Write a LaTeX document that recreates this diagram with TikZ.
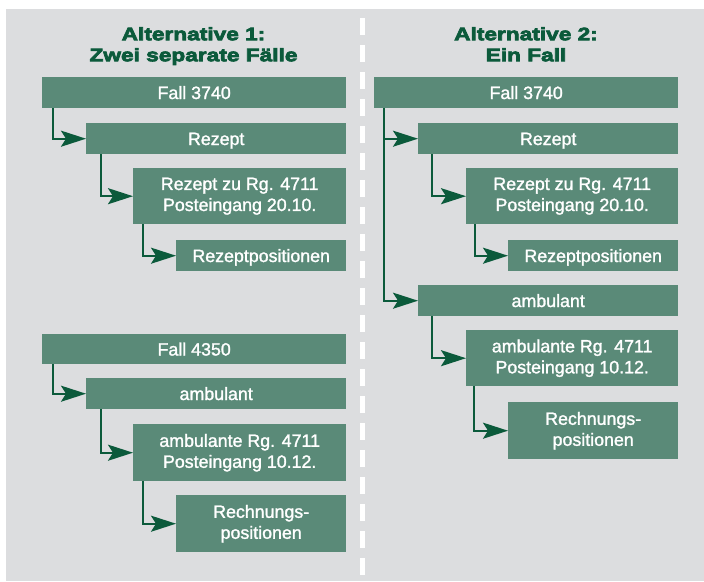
\documentclass[tikz,border=0pt]{standalone}
\usepackage{fontspec}
\setmainfont{Liberation Sans}
\newfontfamily\titlefont{Liberation Sans}[BoldFeatures={FakeBold=4,FakeStretch=1.26}]
\newfontfamily\boxfont{Liberation Sans}[FakeBold=1.5]
\usetikzlibrary{arrows.meta}
\definecolor{bggray}{HTML}{DCDDDF}
\definecolor{boxgreen}{HTML}{5A8A78}
\definecolor{darkgreen}{HTML}{0B5A3B}
\tikzset{
  box/.style={fill=boxgreen, text=white, inner sep=0pt, anchor=north west,
    font=\boxfont\fontsize{17.8}{21}\selectfont, align=center},
  onebox/.style={box, text height=12.6pt, text depth=0pt},
  conn/.style={draw=darkgreen, line width=2.2pt,
    -{Stealth[length=25pt,width=16pt,inset=5pt]}},
  ttl/.style={text=darkgreen, inner sep=0pt, anchor=north, align=center,
    font=\titlefont\bfseries\fontsize{18}{21}\selectfont},
  divider/.style={draw=white, line width=5.5pt, dash pattern=on 17pt off 10pt}
}
\begin{document}
\begin{tikzpicture}[x=1pt,y=-1pt]
\useasboundingbox (0,0) rectangle (704,581);
\fill[bggray] (6,9) rectangle (704,581);
\coordinate (dtop) at (362.3,18);
\coordinate (dbot) at (362.3,581);
\draw[divider] (dtop) -- (dbot);

% titles
\node[ttl] (t1) at (193.5,27) {Alternative 1:\\Zwei separate Fälle};
\node[ttl] (t2) at (526,27) {Alternative 2:\\Ein Fall};

% left column
\node[onebox, minimum width=304pt, minimum height=31pt] (f1) at (42,77) {Fall 3740};
\node[onebox, minimum width=260pt, minimum height=31pt] (r1) at (86,123) {Rezept};
\node[box, minimum width=213pt, minimum height=56pt] (rz1) at (133,168) {Rezept zu Rg. 4711\\Posteingang 20.10.};
\node[onebox, minimum width=170pt, minimum height=31pt] (rp1) at (176,240) {Rezeptpositionen};

\node[onebox, minimum width=304pt, minimum height=30pt] (f2) at (42,334) {Fall 4350};
\node[onebox, minimum width=260pt, minimum height=31pt] (am1) at (86,378) {ambulant};
\node[box, minimum width=213pt, minimum height=57pt] (ar1) at (133,424) {ambulante Rg. 4711\\Posteingang 10.12.};
\node[box, minimum width=170pt, minimum height=57pt] (rn1) at (176,495) {Rechnungs-\\positionen};

\draw[conn] ([xshift=11pt]f1.south west) |- (r1.west);
\draw[conn] ([xshift=15pt]r1.south west) |- (rz1.west);
\draw[conn] ([xshift=10pt]rz1.south west) |- (rp1.west);
\draw[conn] ([xshift=11pt]f2.south west) |- (am1.west);
\draw[conn] ([xshift=15pt]am1.south west) |- (ar1.west);
\draw[conn] ([xshift=10pt]ar1.south west) |- (rn1.west);

% right column
\node[onebox, minimum width=304pt, minimum height=31pt] (f3) at (374,77) {Fall 3740};
\node[onebox, minimum width=260pt, minimum height=31pt] (r2) at (418,123) {Rezept};
\node[box, minimum width=212pt, minimum height=56pt] (rz2) at (466,168) {Rezept zu Rg. 4711\\Posteingang 20.10.};
\node[onebox, minimum width=170pt, minimum height=31pt] (rp2) at (508,240) {Rezeptpositionen};
\node[onebox, minimum width=260pt, minimum height=31pt] (am2) at (418,285) {ambulant};
\node[box, minimum width=212pt, minimum height=56pt] (ar2) at (466,330) {ambulante Rg. 4711\\Posteingang 10.12.};
\node[box, minimum width=170pt, minimum height=57pt] (rn2) at (508,402) {Rechnungs-\\positionen};

\draw[conn] ([xshift=10pt]f3.south west) |- (r2.west);
\draw[conn] ([xshift=10pt]f3.south west) |- (am2.west);
\draw[conn] ([xshift=14pt]r2.south west) |- (rz2.west);
\draw[conn] ([xshift=9pt]rz2.south west) |- (rp2.west);
\draw[conn] ([xshift=14pt]am2.south west) |- (ar2.west);
\draw[conn] ([xshift=8pt]ar2.south west) |- (rn2.west);
\end{tikzpicture}
\end{document}
